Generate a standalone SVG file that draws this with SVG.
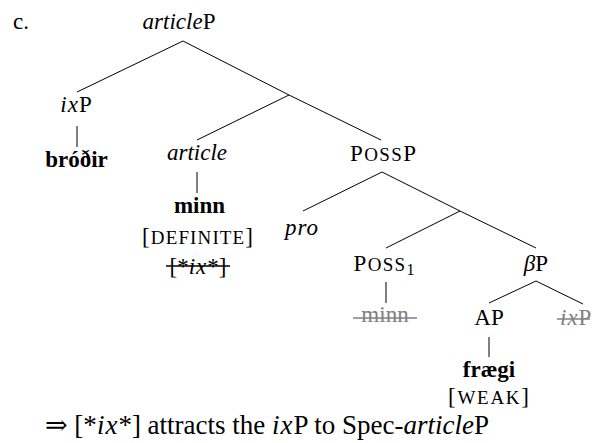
<svg xmlns="http://www.w3.org/2000/svg" width="603" height="443" viewBox="0 0 603 443">
<style>
text{font-family:"Liberation Serif","DejaVu Serif",serif;font-size:23px;fill:#000}
.m{text-anchor:middle}
.i{font-style:italic}
.mi{font-style:italic;letter-spacing:1px}
.b{font-weight:bold}
.sc{font-size:19px}
.sub{font-size:16px}
.big{font-size:27px}
.g{fill:#808080}
.e line{stroke:#000;stroke-width:1}
.s{stroke:#000;stroke-width:1.3}
.sg{stroke:#808080;stroke-width:1.6}
</style>
<rect width="603" height="443" fill="#fff"/>
<g id="connectors" class="e">
<line x1="183" y1="41" x2="77" y2="92"/>
<line x1="183" y1="41" x2="289" y2="95"/>
<line x1="77" y1="126" x2="77" y2="147"/>
<line x1="289" y1="95" x2="197" y2="140"/>
<line x1="289" y1="95" x2="381" y2="140"/>
<line x1="197" y1="172" x2="197" y2="193"/>
<line x1="382" y1="172" x2="303" y2="211"/>
<line x1="382" y1="172" x2="460" y2="211"/>
<line x1="460" y1="211" x2="386" y2="248"/>
<line x1="460" y1="211" x2="536" y2="248"/>
<line x1="386" y1="282" x2="386" y2="303"/>
<line x1="536" y1="281" x2="489" y2="303"/>
<line x1="536" y1="281" x2="583" y2="304"/>
<line x1="489" y1="337" x2="489" y2="357"/>
</g>
<text x="13" y="29">c.</text>
<g id="articleP"><text class="m" x="179" y="29"><tspan class="i">article</tspan>P</text></g>
<g id="ixP"><text class="m" x="76" y="112"><tspan class="mi">ix</tspan>P</text></g>
<g id="brodir"><text class="m b" x="76.5" y="167">bróðir</text></g>
<g id="article"><text class="m i" x="197" y="160">article</text></g>
<g id="minn"><text class="m b" x="199.5" y="213">minn</text>
<text class="m" x="197.5" y="244" textLength="111" lengthAdjust="spacing">[<tspan class="sc">DEFINITE</tspan>]</text>
<text class="m" x="198" y="274">[*<tspan class="mi">ix</tspan>*]</text>
<line class="s" x1="166" y1="266" x2="230" y2="266"/></g>
<g id="PossP"><text class="m" x="383" y="161" textLength="66" lengthAdjust="spacing">P<tspan class="sc">OSS</tspan>P</text></g>
<g id="pro"><text class="m mi" x="302" y="235">pro</text></g>
<g id="Poss1"><text class="m" x="384" y="271" textLength="61" lengthAdjust="spacing">P<tspan class="sc">OSS</tspan><tspan class="sub" dy="4">1</tspan></text></g>
<g id="minn-trace"><text class="m g" x="385" y="322">minn</text>
<line class="sg" x1="353" y1="318" x2="417" y2="318"/></g>
<g id="betaP"><text class="m" x="536" y="271"><tspan class="i">β</tspan>P</text></g>
<g id="AP"><text class="m" x="489" y="325">AP</text></g>
<g id="ixP-trace"><text class="g" x="560" y="325"><tspan class="mi">ix</tspan>P</text>
<line class="sg" x1="557" y1="319" x2="590" y2="319"/></g>
<g id="fraegi"><text class="m b" x="489" y="377">frægi</text>
<text class="m" x="488.5" y="404" textLength="81" lengthAdjust="spacing">[<tspan class="sc">WEAK</tspan>]</text></g>
<text class="big" x="45" y="434">⇒ [*<tspan class="mi">ix</tspan>*] attracts the <tspan class="mi">ix</tspan>P to Spec-<tspan class="i">article</tspan>P</text>
</svg>
